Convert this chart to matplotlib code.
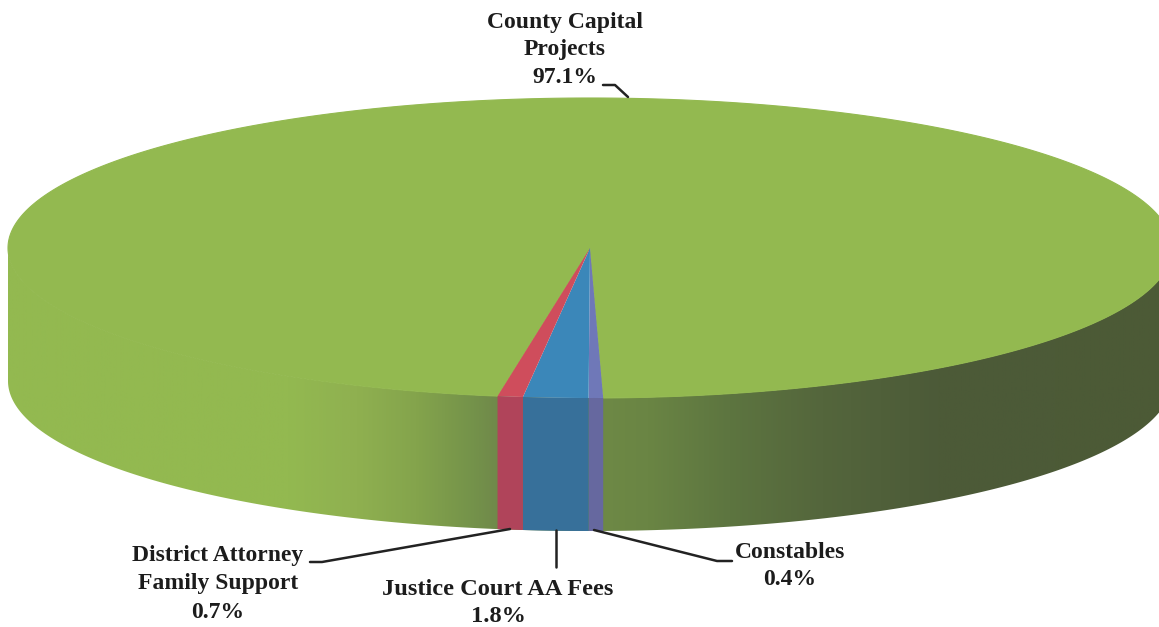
import numpy as np
import matplotlib
matplotlib.use("Agg")
import matplotlib.pyplot as plt
from matplotlib.patches import Polygon, PathPatch
from matplotlib.path import Path
from matplotlib.colors import LinearSegmentedColormap

# Data
categories = ["Constables", "Justice Court AA Fees", "District Attorney\nFamily Support", "County Capital\nProjects"]
shares = [0.4, 1.8, 0.7, 97.1]
top_colors = ["#6f78b8", "#3b87b9", "#cf4d5c", "#93b950"]
side_colors = ["#66689f", "#37709a", "#b0445a", None]

# Geometry of the projected disc
cx, cy, a, b, depth = 590, 248, 582, 150, 133
start_angle = -88.7

# Shading of the green rim, left to right
rim_x = [0.0, 0.24, 0.30, 0.35, 0.40, 0.42, 0.50, 0.55, 0.62, 0.70, 0.80, 1.0]
rim_c = ["#93b950", "#93b950", "#8fb050", "#84a44c", "#74924a", "#70894a", "#6f8a46",
         "#6a8544", "#5d7540", "#54663c", "#4c5a38", "#4c5a36"]


def rim_point(t, dy=0):
    return cx + a * np.cos(t), cy + b * np.sin(t) * -1 + dy


fig = plt.figure(figsize=(11.59, 6.27), dpi=100)
ax = fig.add_axes([0, 0, 1, 1])
ax.set_xlim(0, 1159)
ax.set_ylim(627, 0)
ax.axis("off")

# Slice boundaries, clockwise from the first slice
edges = start_angle - np.cumsum([0] + shares) * 3.6
edges_rad = np.radians(edges)

# Green rim: the whole visible front, with a gradient clipped to its outline
t_front = np.radians(np.linspace(-180, 0, 400))
xt, yt = rim_point(t_front)
xb, yb = rim_point(t_front, depth)
outline = np.column_stack([np.r_[xt, xb[::-1]], np.r_[yt, yb[::-1]]])
rim_path = Path(np.vstack([outline, outline[0]]), closed=True)
cmap = LinearSegmentedColormap.from_list("rim", list(zip(rim_x, rim_c)), N=1024)
grad = np.linspace(0, 1, 1200).reshape(1, -1)
im = ax.imshow(grad, cmap=cmap, extent=(cx - a, cx + a, cy + b + depth, cy), aspect="auto", zorder=1)
im.set_clip_path(PathPatch(rim_path, transform=ax.transData))
ax.set_xlim(0, 1159)
ax.set_ylim(627, 0)

# Top face and slice sides
for i, color in enumerate(top_colors):
    t = np.linspace(edges_rad[i], edges_rad[i + 1], 500 if i == 3 else 20)
    x, y = rim_point(t)
    ax.add_patch(Polygon(np.column_stack([np.r_[cx, x], np.r_[cy, y]]), closed=True,
                         facecolor=color, edgecolor=color if i == 3 else "none", lw=0.8,
                         zorder=3 if i < 3 else 2))
    if side_colors[i]:
        xb2, yb2 = rim_point(t, depth)
        ax.add_patch(Polygon(np.column_stack([np.r_[x, xb2[::-1]], np.r_[y, yb2[::-1]]]), closed=True,
                             facecolor=side_colors[i], edgecolor="none", zorder=3))

# Labels
label_pos = [(790, 566), (498, 603), (218, 584), (565, 50)]
label_size = [17.0, 17.6, 17.0, 17.0]
label_spacing = [1.36, 1.42, 1.46, 1.40]
for name, share, (lx, ly), fs, ls in zip(categories, shares, label_pos, label_size, label_spacing):
    ax.text(lx, ly, f"{name}\n{share:.1f}%", family="Liberation Serif", fontweight="bold",
            fontsize=fs, linespacing=ls, color="#1c1c1c", ha="center", va="center", zorder=6)

# Leader lines
leaders = [
    ([594, 717, 732], [530, 561, 561]),
    ([556, 556], [530, 567]),
    ([510, 322, 310], [529, 562, 562]),
    ([603, 615, 628], [85, 85, 97]),
]
for lx, ly in leaders:
    ax.plot(lx, ly, color="#222222", lw=1.8, solid_capstyle="round", zorder=5)

fig.savefig("out.png", dpi=100, facecolor="white")
